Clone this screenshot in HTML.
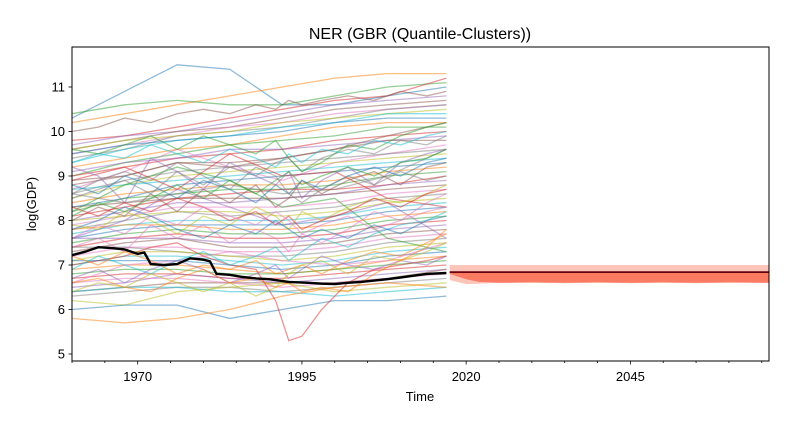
<!DOCTYPE html>
<html><head><meta charset="utf-8"><style>
html,body{margin:0;padding:0;background:#fff;}
svg{display:block;font-family:"Liberation Sans","DejaVu Sans",sans-serif;}
</style></head><body>
<svg id="chart" width="794" height="429" viewBox="0 0 794 429">
<text x="420" y="39" text-anchor="middle" font-size="16" fill="#000">NER (GBR (Quantile-Clusters))</text>
<text x="420" y="401" text-anchor="middle" font-size="13" fill="#000">Time</text>
<text transform="translate(36,204) rotate(-90)" text-anchor="middle" font-size="13" fill="#000">log(GDP)</text>
<g id="plot"></g>
<g id="axes"></g>
</svg>
<script>
const histYears = [1960,1968,1976,1984,1992,2000,2008,2017];
const seriesLines = [
[10.3,10.9,11.5,11.4,10.6,10.6,10.8,11.0],
[10.2,10.4,10.6,10.8,11.0,11.2,11.3,11.3],
[10.4,10.6,10.7,10.6,10.6,10.8,11.0,11.1],
[9.8,9.9,10.1,10.3,10.5,10.7,10.8,11.2],
[9.7,9.9,10.0,10.2,10.4,10.6,10.7,10.8],
[9.6,9.8,10.0,10.1,10.3,10.5,10.6,10.7],
[9.5,9.7,9.9,10.1,10.2,10.4,10.5,10.6],
[9.4,9.6,9.9,10.0,10.1,10.3,10.5,10.6],
[9.6,9.8,9.9,10.0,10.2,10.3,10.4,10.5],
[9.3,9.6,9.8,9.9,10.1,10.2,10.4,10.4],
[9.5,9.7,9.8,9.9,10.0,10.2,10.3,10.3],
[9.2,9.4,9.6,9.7,9.9,10.1,10.2,10.2],
[9.0,9.3,9.5,9.7,9.8,9.9,10.1,10.1],
[8.9,9.2,9.4,9.5,9.6,9.8,9.9,10.0],
[9.1,9.3,9.4,9.6,9.6,9.7,9.8,9.9],
[8.8,9.0,9.3,9.3,9.4,9.6,9.8,9.8],
[8.7,9.1,9.6,9.2,8.9,9.3,9.5,9.7],
[8.6,8.9,9.1,9.2,9.3,9.4,9.5,9.6],
[8.5,8.8,9.0,9.1,9.2,9.3,9.4,9.5],
[8.7,8.8,8.9,9.0,9.1,9.2,9.3,9.4],
[8.3,8.5,8.8,8.9,9.0,9.1,9.2,9.3],
[8.4,8.6,8.7,8.8,8.8,8.9,9.1,9.2],
[8.2,8.5,8.6,8.7,8.7,8.8,9.0,9.1],
[8.1,8.3,8.5,8.6,8.7,8.7,8.8,9.0],
[8.0,8.2,8.4,8.4,8.5,8.6,8.8,8.9],
[8.3,8.4,8.5,8.5,8.5,8.6,8.7,8.8],
[7.9,8.1,8.3,8.3,8.3,8.4,8.6,8.7],
[7.8,8.0,8.2,8.1,8.2,8.3,8.5,8.6],
[8.0,8.1,8.2,8.2,8.1,8.2,8.4,8.5],
[7.7,7.9,8.0,8.0,8.0,8.1,8.3,8.4],
[7.6,7.8,7.9,7.9,7.9,8.0,8.2,8.3],
[7.8,7.9,7.9,7.8,7.8,7.9,8.1,8.2],
[7.5,7.7,7.8,7.7,7.7,7.8,8.0,8.1],
[7.4,7.6,7.7,7.6,7.6,7.7,7.9,8.0],
[7.6,7.6,7.6,7.5,7.5,7.6,7.8,7.9],
[7.3,7.5,7.6,7.4,7.4,7.5,7.7,7.8],
[7.2,7.4,7.4,7.3,7.3,7.4,7.6,7.7],
[7.4,7.4,7.3,7.2,7.2,7.3,7.5,7.6],
[7.1,7.3,7.3,7.2,7.1,7.2,7.4,7.5],
[7.0,7.2,7.2,7.1,7.0,7.1,7.3,7.4],
[7.1,7.1,7.1,7.0,6.9,7.0,7.2,7.3],
[6.9,7.0,7.0,6.9,6.8,6.9,7.1,7.2],
[6.8,6.9,6.9,6.8,6.8,6.9,7.0,7.1],
[6.7,6.8,6.8,6.7,6.7,6.8,6.9,7.0],
[6.5,6.6,6.8,6.7,6.6,6.7,6.8,6.9],
[6.4,6.5,6.6,6.6,6.6,6.6,6.7,6.9],
[6.6,6.7,6.7,6.6,6.5,6.6,6.7,6.8],
[6.3,6.4,6.5,6.5,6.4,6.5,6.6,6.7],
[6.2,6.1,6.4,6.5,6.6,6.4,6.5,6.6],
[6.4,6.5,6.5,6.4,6.4,6.3,6.4,6.5],
[6.0,6.1,6.1,5.8,6.0,6.2,6.2,6.3],
[5.8,5.7,5.8,6.0,6.3,6.5,6.6,6.5],
[8.2,8.8,9.2,8.9,8.3,8.5,7.6,7.3],
[9.0,9.2,8.7,9.5,9.0,9.1,8.5,8.3],
[7.6,8.0,8.7,8.3,7.9,8.1,8.4,7.6],
[8.9,9.0,9.3,9.2,9.4,9.6,9.9,10.2],
[6.6,7.0,7.1,7.3,7.1,7.0,7.1,7.5],
[8.6,8.4,8.6,8.8,8.6,8.7,9.0,9.6]
];
const denseYears = [1960,1964,1968,1972,1976,1980,1984,1988,1991,1993,1995,1998,2002,2006,2010,2014,2017];
const denseLines = [
[7.0,7.1,7.2,7.4,7.5,7.2,7.0,6.9,6.2,5.3,5.4,6.0,6.6,6.9,7.0,7.1,7.2],
[9.2,9.0,8.4,9.4,9.1,8.7,9.3,9.0,8.8,9.1,8.5,8.9,9.2,8.8,9.3,9.5,9.6],
[8.0,8.3,8.1,8.6,8.2,8.7,8.4,8.8,8.3,8.5,8.9,8.6,8.9,9.1,8.8,9.2,9.3],
[7.4,7.6,7.3,7.9,7.6,7.9,7.5,7.8,7.6,7.3,7.7,7.5,7.8,8.2,8.0,8.4,8.6],
[8.5,8.7,8.9,8.6,9.1,8.8,9.2,9.0,9.3,9.4,9.1,9.4,9.6,9.5,9.8,9.7,9.9],
[7.9,7.8,8.2,8.0,7.7,8.1,7.9,8.3,8.1,7.8,8.2,8.0,8.3,8.5,8.4,8.6,8.8],
[6.9,7.2,7.0,6.8,7.1,7.3,7.0,7.2,7.4,7.1,7.3,7.6,7.4,7.7,7.9,8.0,8.2],
[8.8,8.6,9.0,8.8,8.5,8.9,8.7,8.4,8.8,8.6,8.9,8.7,9.0,9.2,9.0,9.3,9.4],
[7.2,7.0,7.3,7.1,6.8,7.0,6.9,7.1,6.8,6.9,7.0,6.8,7.1,7.3,7.2,7.5,7.7],
[9.6,9.5,9.7,9.9,9.6,9.9,9.7,9.5,9.8,9.4,9.1,9.3,9.7,9.6,9.9,10.1,10.2],
[8.3,8.1,8.4,8.2,8.5,8.3,8.0,8.2,7.9,8.1,7.8,8.0,8.2,8.5,8.3,8.6,8.7],
[6.7,6.9,6.6,6.9,7.1,6.9,6.6,6.8,7.0,6.7,6.9,7.2,7.0,6.9,7.1,7.0,7.2],
[10.0,10.1,10.3,10.2,10.4,10.5,10.4,10.6,10.5,10.7,10.6,10.7,10.8,10.7,10.9,10.8,10.9],
[7.6,7.9,7.7,8.1,7.9,8.3,8.1,7.9,8.2,8.0,7.7,7.9,8.1,7.8,8.0,8.2,8.3],
[8.6,8.9,9.1,8.9,9.3,9.0,8.7,9.2,9.0,8.6,8.4,8.7,9.0,8.8,9.1,8.9,9.0],
[6.4,6.6,6.5,6.8,6.6,6.4,6.6,6.3,6.5,6.8,7.0,7.1,6.8,7.2,7.1,7.3,7.5],
[9.3,9.5,9.4,9.7,9.5,9.3,9.6,9.4,9.2,9.5,9.3,9.6,9.5,9.8,9.7,9.9,10.0],
[7.8,8.0,8.3,8.1,7.8,7.6,7.9,7.7,8.0,7.8,7.6,7.8,7.6,7.9,7.7,8.0,8.1],
[6.6,6.7,6.5,6.4,6.7,6.9,6.6,6.7,6.5,6.6,6.4,6.5,6.4,6.8,7.1,7.4,7.8],
[8.1,8.4,8.2,8.5,8.8,8.5,8.9,8.6,8.9,9.1,8.8,9.0,9.2,9.0,9.3,9.4,9.6]
];
const meanYears = [1960,1962,1964,1966,1968,1970,1971,1972,1974,1976,1978,1980,1981,1982,1984,1986,1988,1990,1993,1996,1998,2000,2002,2004,2006,2008,2010,2012,2014,2017];
const meanValues = [7.22,7.3,7.4,7.38,7.35,7.25,7.28,7.02,7.0,7.02,7.15,7.12,7.08,6.8,6.78,6.73,6.7,6.68,6.62,6.6,6.58,6.57,6.6,6.62,6.65,6.68,6.72,6.76,6.8,6.82];
const fcYears = [2017.5,2020,2022,2025,2030,2035,2040,2045,2050,2055,2060,2066.1];
const fcMean = [6.84,6.84,6.84,6.84,6.84,6.84,6.84,6.84,6.84,6.84,6.84,6.84];
const fcUpperOuter = [7.0,7.0,7.0,7.0,7.0,7.0,7.0,7.0,7.0,7.0,7.0,7.0];
const fcLowerOuter = [6.66,6.57,6.58,6.6,6.6,6.59,6.6,6.59,6.6,6.59,6.6,6.6];
const fcUpperInner = [6.84,6.84,6.84,6.84,6.84,6.84,6.84,6.84,6.84,6.84,6.84,6.84];
const fcLowerInner = [6.8,6.68,6.62,6.6,6.61,6.6,6.61,6.6,6.61,6.6,6.61,6.6];
const xTicks = [1970,1995,2020,2045];
const yTicks = [5,6,7,8,9,10,11];

const L=72,R=769,T=47,B=361;
const x = y => L + (y-1960)*(R-L)/(2066.1-1960);
const yv = v => 354 - (v-5)*(354-87)/6;
const NS="http://www.w3.org/2000/svg";
const plot=document.getElementById('plot'), axes=document.getElementById('axes');
const colors=['#1f77b4','#ff7f0e','#2ca02c','#d62728','#9467bd','#8c564b','#e377c2','#7f7f7f','#bcbd22','#17becf'];
function mk(tag,attrs,parent){const e=document.createElementNS(NS,tag);for(const k in attrs)e.setAttribute(k,attrs[k]);parent.appendChild(e);return e;}
function pathD(xs,vs){return vs.map((v,j)=>(j?'L':'M')+x(xs[j]).toFixed(1)+','+yv(v).toFixed(1)).join(' ');}

seriesLines.forEach((vals,i)=>{
  const p=mk('path',{d:pathD(histYears,vals),fill:'none',stroke:colors[i%10],'stroke-opacity':0.5,'stroke-width':1.3},plot);
  
  
});
denseLines.forEach((vals,i)=>{
  const p=mk('path',{d:pathD(denseYears,vals),fill:'none',stroke:colors[(i+3)%10],'stroke-opacity':0.5,'stroke-width':1.3},plot);
  
  
});
const mp=mk('path',{d:pathD(meanYears,meanValues),fill:'none',stroke:'#000','stroke-width':2.4},plot);



function band(up,lo){
  const n=fcYears.length;
  let d='';
  for(let j=0;j<n;j++) d+=(j?'L':'M')+x(fcYears[j]).toFixed(1)+','+yv(up[j]).toFixed(1)+' ';
  for(let j=n-1;j>=0;j--) d+='L'+x(fcYears[j]).toFixed(1)+','+yv(lo[j]).toFixed(1)+' ';
  return d+'Z';
}
const b1=mk('path',{d:band(fcUpperOuter,fcLowerOuter),fill:'#fcc5ba'},plot);


const b2=mk('path',{d:band(fcUpperInner,fcLowerInner),fill:'#fb7a62'},plot);


const fl=mk('path',{d:pathD(fcYears,fcMean),fill:'none',stroke:'#67000d','stroke-width':1.8},plot);



const fr=mk('rect',{x:L,y:T,width:R-L,height:B-T,fill:'none',stroke:'#000','stroke-width':1},axes);


for(let yr=1960;yr<=2065;yr+=5){
  const major=xTicks.includes(yr);
  const t=mk('line',{x1:x(yr),x2:x(yr),y1:B,y2:B+(major?3.5:2),stroke:'#000','stroke-width':0.8},axes);
  
  
}
xTicks.forEach(yr=>{
  const t=mk('text',{x:x(yr),y:B+20,'text-anchor':'middle','font-size':13,fill:'#000'},axes);
  t.textContent=yr;
  
  
});
yTicks.forEach(v=>{
  const t=mk('line',{x1:L-3.5,x2:L,y1:yv(v),y2:yv(v),stroke:'#000','stroke-width':0.8},axes);
  
  
  const s=mk('text',{x:L-7,y:yv(v)+4.5,'text-anchor':'end','font-size':13,fill:'#000'},axes);
  s.textContent=v;
  
  
});
</script>
</body></html>
